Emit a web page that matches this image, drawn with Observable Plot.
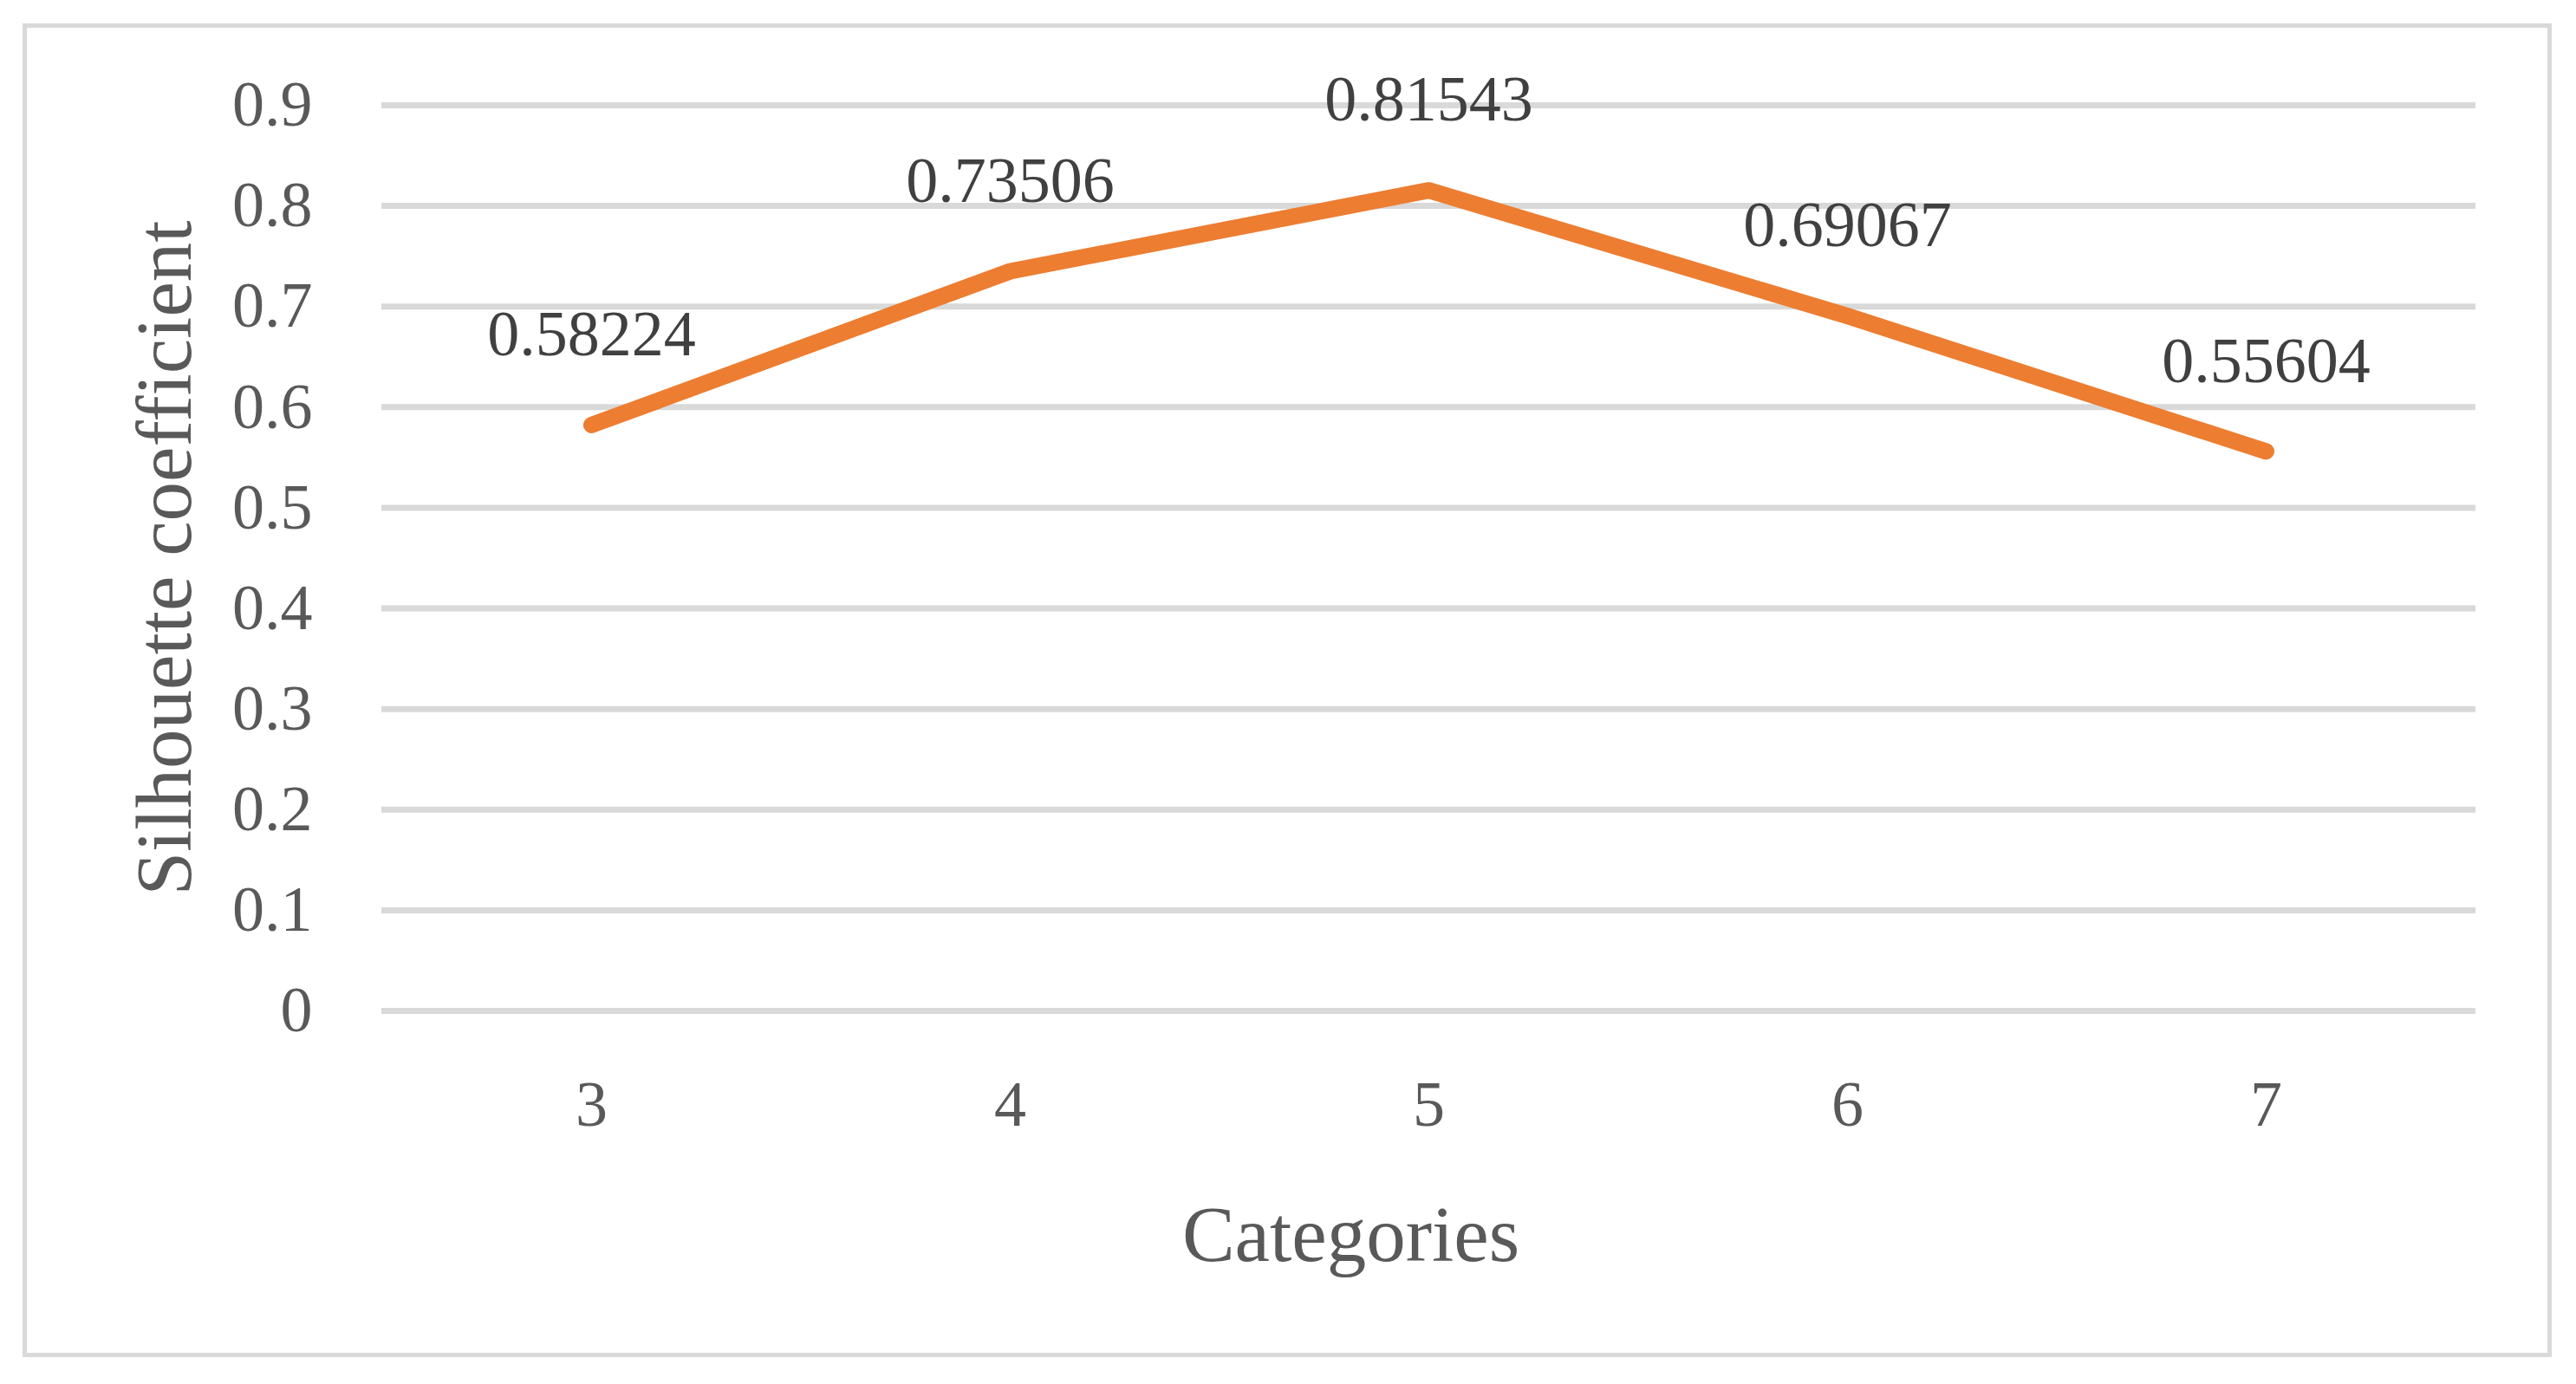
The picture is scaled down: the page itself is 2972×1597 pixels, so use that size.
<!DOCTYPE html>
<html>
<head>
<meta charset="utf-8">
<script src="https://cdn.jsdelivr.net/npm/d3@7"></script>
<script src="https://cdn.jsdelivr.net/npm/@observablehq/plot@0.6"></script>
<style>
  html, body { margin: 0; padding: 0; background: #ffffff; overflow: hidden; }
  #wrap { position: relative; width: 2972px; height: 1597px; }
  #border { position: absolute; left: 26px; top: 27px; width: 2918px; height: 1539px;
            border: 5px solid #d9d9d9; box-sizing: border-box; pointer-events: none; }
  #chart { position: absolute; left: 0; top: 0; }
</style>
</head>
<body>
<div id="wrap">
  <div id="chart"></div>
  <div id="border"></div>
</div>
<script>
const categories = ["3", "4", "5", "6", "7"];
const values = [0.58224, 0.73506, 0.81543, 0.69067, 0.55604];
const valueLabels = ["0.58224", "0.73506", "0.81543", "0.69067", "0.55604"];
const yTicks = [0, 0.1, 0.2, 0.3, 0.4, 0.5, 0.6, 0.7, 0.8, 0.9];
const yTickLabels = ["0", "0.1", "0.2", "0.3", "0.4", "0.5", "0.6", "0.7", "0.8", "0.9"];
const xTitle = "Categories";
const yTitle = "Silhouette coefficient";

const data = categories.map((c, i) => ({category: c, value: values[i], label: valueLabels[i]}));

const font = "'Liberation Serif', 'DejaVu Serif', serif";

const chart = Plot.plot({
  width: 2972,
  height: 1597,
  marginLeft: 440,
  marginRight: 116,
  marginTop: 121,
  marginBottom: 431,
  style: {fontFamily: font, background: "transparent", overflow: "visible"},
  x: {type: "point", domain: categories, padding: 0.5},
  y: {domain: [0, 0.9]},
  marks: [
    Plot.ruleY(yTicks, {stroke: "#d9d9d9", strokeWidth: 7}),
    Plot.axisY({
      ticks: yTicks,
      tickFormat: d => yTickLabels[yTicks.indexOf(d)],
      tickSize: 0,
      tickPadding: 80,
      fontSize: 74,
      color: "#595959",
      label: null
    }),
    Plot.axisX({
      tickSize: 0,
      tickPadding: 80,
      fontSize: 74,
      color: "#595959",
      label: null
    }),
    Plot.line(data, {
      x: "category", y: "value",
      stroke: "#ED7D31", strokeWidth: 19,
      strokeLinecap: "round", strokeLinejoin: "round"
    }),
    Plot.text(data, {
      x: "category", y: "value", text: "label",
      dy: -104, fontSize: 74, fill: "#404040", lineAnchor: "middle"
    }),
    Plot.text([xTitle], {
      text: d => d, frameAnchor: "bottom", lineAnchor: "middle",
      dy: 259, dx: -90, fontSize: 91, fill: "#595959"
    }),
    Plot.text([yTitle], {
      text: d => d, frameAnchor: "left", lineAnchor: "middle", textAnchor: "middle",
      rotate: -90, dx: -250, fontSize: 91, fill: "#595959"
    })
  ]
});

document.getElementById("chart").appendChild(chart);
</script>
</body>
</html>
